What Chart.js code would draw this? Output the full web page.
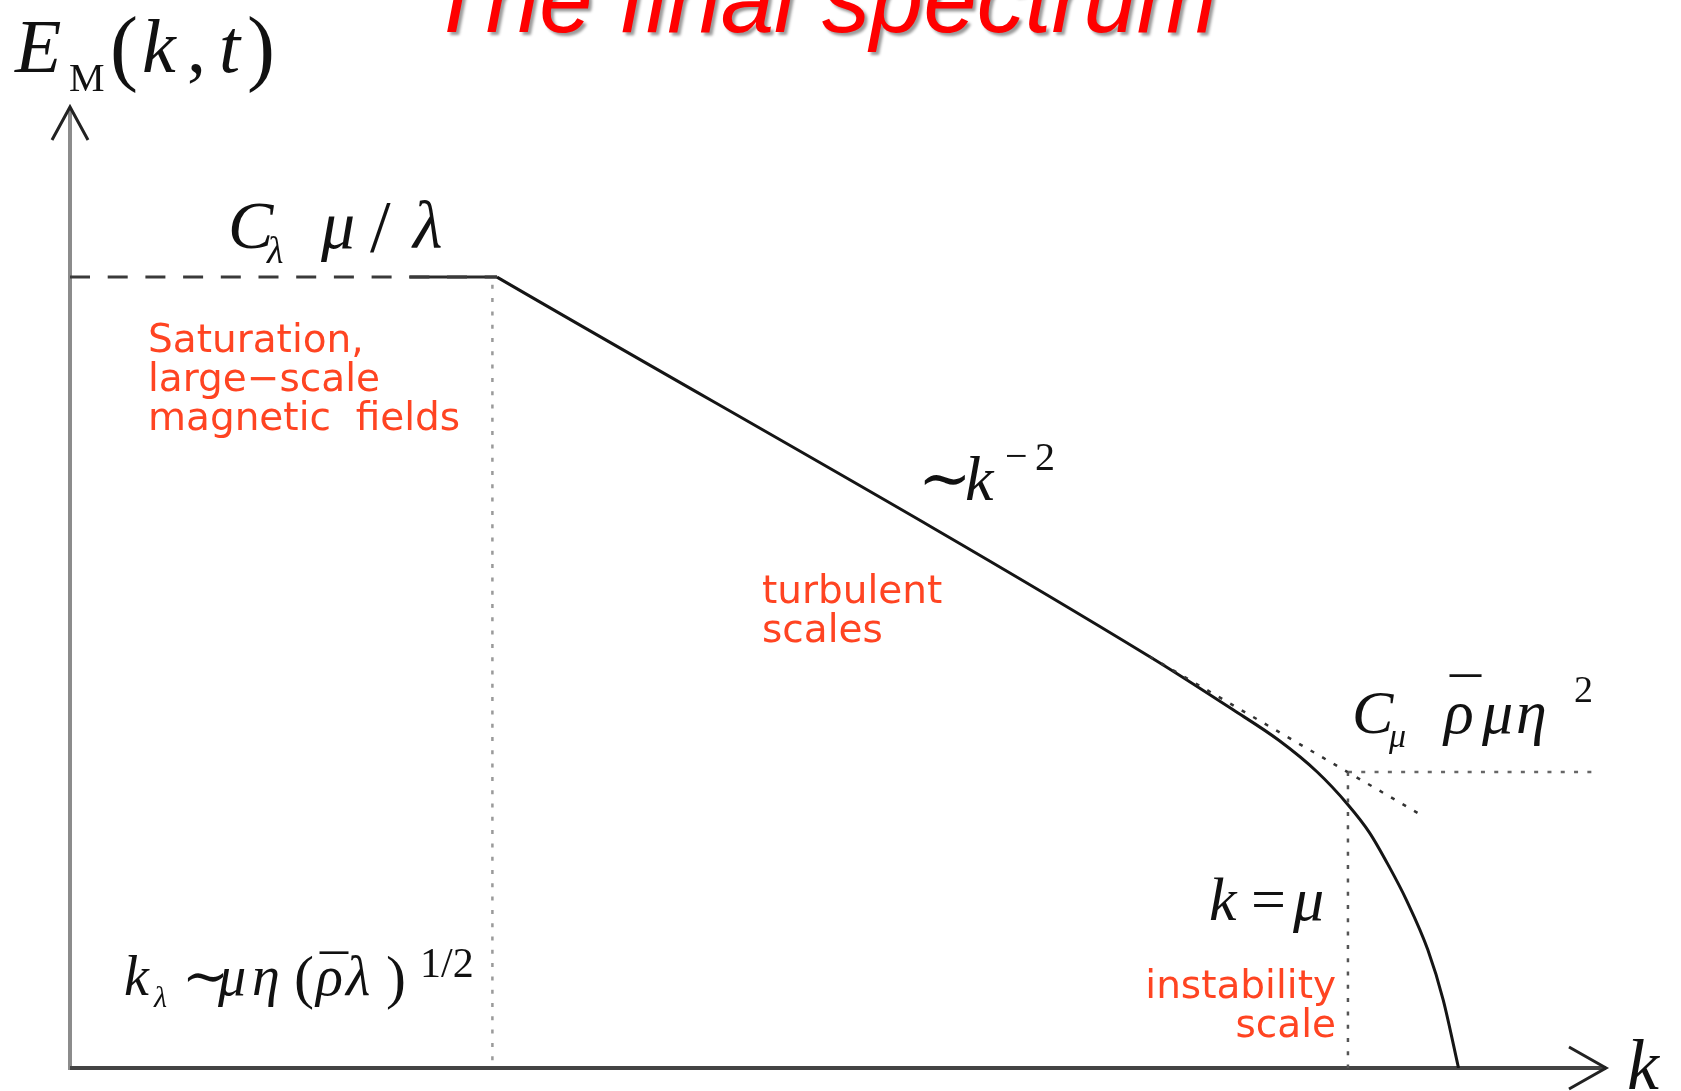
<!DOCTYPE html>
<html>
<head>
<meta charset="utf-8">
<title>The final spectrum</title>
<script src="https://cdn.jsdelivr.net/npm/chart.js@4.4.1/dist/chart.umd.min.js"></script>
<style>
  html, body { margin: 0; padding: 0; background: #fff; }
  canvas { display: block; }
</style>
</head>
<body>
<canvas id="spectrumChart" width="1681" height="1091"></canvas>
<script>
// Schematic magnetic spectrum, k and E_M in arbitrary units (0..100 on both axes)
let titleText = 'The final spectrum';

// saturated large-scale plateau (dashed)
let plateauK = [0, 27.8];
let plateauE = [82.3, 82.3];

// solid spectrum: short flat piece, then ~k^-2 and the cut-off
let flatK = [22.1, 27.8];
let flatE = [82.3, 82.3];
let spectrumK = [27.8, 70.3, 75.7, 78.7, 81.2, 83.2, 84.6, 85.9, 87.0, 88.4, 89.4, 90.4];
let spectrumE = [82.3, 42.8, 37.3, 34.1, 30.8, 27.4, 24.5, 20.9, 17.5, 12.3, 7.1, 0];

// dotted asymptotes
let powerLawK = [70.3, 88.0];
let powerLawE = [42.8, 26.3];
let levelK = [83.2, 99.6];
let levelE = [30.8, 30.8];

// characteristic wavenumbers
let kLambda = 27.5;
let kMu = 83.2;
let kMuLevel = 30.8;

const pts = (ks, es) => ks.map((k, i) => ({ x: k, y: es[i] }));

const serif = '"Liberation Serif", "DejaVu Serif", serif';
const mi = s => `italic ${s}px ${serif}`;
const mr = s => `${s}px ${serif}`;

// math labels: origin in canvas px, runs = [text, font, dx, dy]
const mathLabels = [
    { x: 15, y: 72, runs: [
        ['E', mi(76), 0, 0], ['M', mr(40), 54, 19], ['(', mr(84), 95, 3],
        ['k', mi(76), 127, 0], [',', mr(76), 172, 0], ['t', mi(76), 204, 0], [')', mr(84), 232, 3]] },
    { x: 228, y: 248, runs: [
        ['C', mi(68), 0, 0], ['λ', mi(38), 39, 15], ['μ', mi(68), 93, 0],
        ['/', mr(74), 142, 4], ['λ', mi(68), 185, 0]] },
    { x: 918, y: 500, runs: [
        ['∼', mr(64), 0, 0], ['k', mi(64), 47, 0], ['−', mr(40), 87, -31], ['2', mr(40), 117, -30]] },
    { x: 1352, y: 733, runs: [
        ['C', mi(62), 0, 0], ['μ', mi(34), 37, 14], ['ρ', mi(62), 92, 0], ['¯', mr(62), 98, -12],
        ['μ', mi(62), 130, 0], ['η', mi(62), 164, 0], ['2', mr(38), 222, -31]] },
    { x: 1209, y: 920, runs: [
        ['k', mi(62), 0, 0], ['=', mr(62), 42, 0], ['μ', mi(62), 84, 0]] },
    { x: 124, y: 995, runs: [
        ['k', mi(56), 0, 0], ['λ', mi(30), 30, 12], ['∼', mr(56), 58, 0], ['μ', mi(56), 94, 0],
        ['η', mi(56), 128, 0], ['(', mr(60), 170, 2], ['ρ', mi(56), 192, 0], ['¯', mr(56), 196, 0],
        ['λ', mi(56), 222, 0], [')', mr(60), 262, 2], ['1/2', mr(42), 296, -18]] },
    { x: 1627, y: 1089, runs: [['k', mi(72), 0, 0]] }
];

// red region notes
const notes = [
    { x: 148, y: 352, align: 'left', lines: ['Saturation,', 'large−scale', 'magnetic  fields'] },
    { x: 762, y: 603, align: 'left', lines: ['turbulent', 'scales'] },
    { x: 1336, y: 998, align: 'right', lines: ['instability', 'scale'] }
];

const axesPlugin = {
    id: 'arrowAxes',
    beforeDatasetsDraw(chart) {
        const { ctx, scales: { x, y } } = chart;
        const x0 = x.getPixelForValue(0), y0 = y.getPixelForValue(0);
        const xEnd = x.getPixelForValue(x.max), yTop = y.getPixelForValue(y.max);
        ctx.save();
        ctx.lineWidth = 4;
        ctx.strokeStyle = '#8c8c8c';
        ctx.beginPath();
        ctx.moveTo(x0, y0 + 2);
        ctx.lineTo(x0, yTop + 2);
        ctx.stroke();
        ctx.strokeStyle = '#444';
        ctx.beginPath();
        ctx.moveTo(x0, y0);
        ctx.lineTo(xEnd, y0);
        ctx.stroke();
        // open arrow heads
        ctx.lineWidth = 3;
        ctx.strokeStyle = '#222';
        ctx.beginPath();
        ctx.moveTo(x0 - 18, yTop + 33);
        ctx.lineTo(x0, yTop);
        ctx.lineTo(x0 + 18, yTop + 33);
        ctx.moveTo(xEnd - 37, y0 - 21);
        ctx.lineTo(xEnd, y0);
        ctx.lineTo(xEnd - 37, y0 + 21);
        ctx.stroke();
        ctx.restore();
    }
};

const textPlugin = {
    id: 'spectrumText',
    afterDraw(chart) {
        const ctx = chart.ctx;
        ctx.save();
        ctx.textBaseline = 'alphabetic';

        ctx.save();
        ctx.font = 'italic 96px "Liberation Sans", Arial, sans-serif';
        ctx.fillStyle = '#ff0000';
        ctx.textAlign = 'center';
        ctx.shadowColor = 'rgba(0,0,0,0.4)';
        ctx.shadowOffsetX = 3;
        ctx.shadowOffsetY = 3;
        ctx.shadowBlur = 3;
        ctx.fillText(titleText, 822, 32);
        ctx.restore();

        ctx.fillStyle = '#111';
        ctx.textAlign = 'left';
        mathLabels.forEach(l => l.runs.forEach(([t, f, dx, dy]) => {
            ctx.font = f;
            ctx.fillText(t, l.x + dx, l.y + dy);
        }));

        ctx.fillStyle = '#ff4422';
        ctx.font = '39px "DejaVu Sans", sans-serif';
        notes.forEach(n => {
            ctx.textAlign = n.align;
            n.lines.forEach((line, i) => ctx.fillText(line, n.x, n.y + i * 39));
        });
        ctx.restore();
    }
};

const dotted = [4, 9.3];

new Chart(document.getElementById('spectrumChart').getContext('2d'), {
    type: 'scatter',
    data: {
        datasets: [
            {
                label: 'k_lambda',
                data: pts([kLambda, kLambda], [plateauE[1] - 0.8, 0]),
                borderColor: '#9a9a9a', borderWidth: 2.5, borderDash: dotted,
            },
            {
                label: 'k = mu',
                data: pts([kMu, kMu], [kMuLevel, 0]),
                borderColor: '#555', borderWidth: 2.5, borderDash: dotted,
            },
            {
                label: 'instability level',
                data: pts(levelK, levelE),
                borderColor: '#666', borderWidth: 2.5, borderDash: dotted,
            },
            {
                label: 'k^-2 asymptote',
                data: pts(powerLawK, powerLawE),
                borderColor: '#333', borderWidth: 2.5, borderDash: dotted,
            },
            {
                label: 'saturation',
                data: pts(plateauK, plateauE),
                borderColor: '#3a3a3a', borderWidth: 3, borderDash: [20, 17.7],
            },
            {
                label: 'flat',
                data: pts(flatK, flatE),
                borderColor: '#2a2a2a', borderWidth: 3,
            },
            {
                label: 'spectrum',
                data: pts(spectrumK, spectrumE),
                borderColor: '#151515', borderWidth: 3,
                cubicInterpolationMode: 'monotone',
            },
        ].map(d => Object.assign({ showLine: true, fill: false, pointRadius: 0 }, d))
    },
    options: {
        responsive: false,
        animation: false,
        layout: {
            autoPadding: false,
            padding: { left: 70, right: 75, top: 107, bottom: 23 }
        },
        scales: {
            x: { type: 'linear', min: 0, max: 100, display: false },
            y: { type: 'linear', min: 0, max: 100, display: false },
        },
        plugins: {
            legend: { display: false },
            tooltip: { enabled: false },
        },
    },
    plugins: [axesPlugin, textPlugin]
});
</script>
</body>
</html>
